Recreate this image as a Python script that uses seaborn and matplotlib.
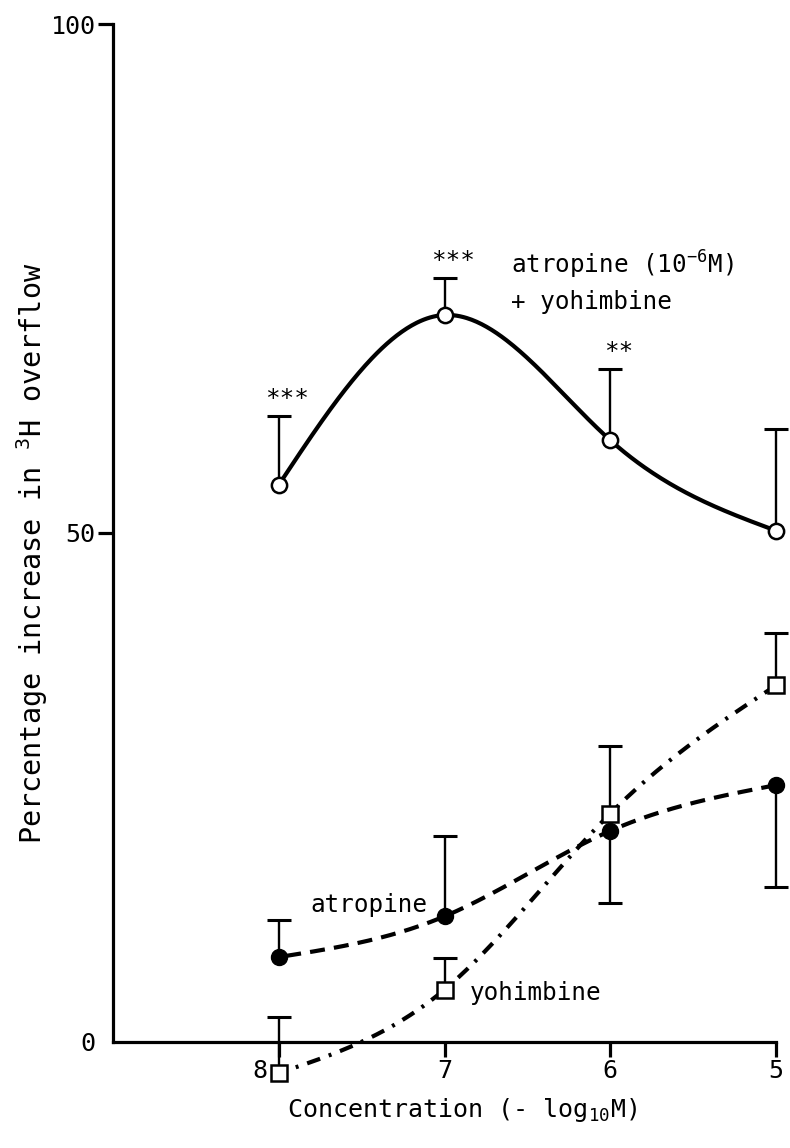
import numpy as np
import pandas as pd
import matplotlib
matplotlib.use("Agg")
import matplotlib.pyplot as plt
import matplotlib.transforms as mtransforms
import seaborn as sns

# ---- data ----
conc = [8, 7, 6, 5]                       # -log10 M
combo_mean = [54.7, 71.4, 59.1, 50.2]     # atropine (1e-6 M) + yohimbine
combo_up = [6.8, 3.6, 7.0, 10.0]
atro_mean = [8.3, 12.3, 20.7, 25.2]       # atropine
atro_up = [3.6, 7.9, 0.0, 0.0]
atro_down = [0.0, 0.0, 7.1, 10.0]
yoh_mean = [-3.1, 5.1, 22.4, 35.0]        # yohimbine
yoh_up = [5.5, 3.1, 6.6, 5.1]
signif = ["***", "***", "**", ""]
xticks = [8, 7, 6, 5]
yticks = [0, 50, 100]

sns.set_style("ticks")
plt.rcParams["font.family"] = ["DejaVu Sans Mono", "DejaVu Sans"]
plt.rcParams["mathtext.fontset"] = "custom"
plt.rcParams["mathtext.rm"] = "DejaVu Sans Mono"
plt.rcParams["mathtext.it"] = "DejaVu Sans Mono"
plt.rcParams["mathtext.default"] = "rm"
for key in ("text.color", "axes.labelcolor", "xtick.color", "ytick.color", "axes.edgecolor"):
    plt.rcParams[key] = "black"

FS = 17.5


def natural_spline(x, y, n=300):
    x = np.asarray(x, float)
    y = np.asarray(y, float)
    order = np.argsort(x)
    x, y = x[order], y[order]
    m = len(x)
    h = np.diff(x)
    A = np.zeros((m, m))
    b = np.zeros(m)
    A[0, 0] = 1
    A[-1, -1] = 1
    for i in range(1, m - 1):
        A[i, i - 1] = h[i - 1]
        A[i, i] = 2 * (h[i - 1] + h[i])
        A[i, i + 1] = h[i]
        b[i] = 6 * ((y[i + 1] - y[i]) / h[i] - (y[i] - y[i - 1]) / h[i - 1])
    M = np.linalg.solve(A, b)
    xs = np.linspace(x[0], x[-1], n)
    ys = np.empty_like(xs)
    for k, xv in enumerate(xs):
        i = min(np.searchsorted(x, xv, side="right") - 1, m - 2)
        t1 = x[i + 1] - xv
        t0 = xv - x[i]
        ys[k] = (M[i] * t1 ** 3 / (6 * h[i]) + M[i + 1] * t0 ** 3 / (6 * h[i])
                 + (y[i] / h[i] - M[i] * h[i] / 6) * t1
                 + (y[i + 1] / h[i] - M[i + 1] * h[i] / 6) * t0)
    return pd.DataFrame({"conc": xs, "value": ys})


fig = plt.figure(figsize=(7.9, 11.48), dpi=100)
ax = fig.add_axes([113 / 790, (1148 - 1041.5) / 1148, (776 - 113) / 790, (1041.5 - 24) / 1148])

# smooth curves
sns.lineplot(data=natural_spline(conc, combo_mean), x="conc", y="value", ax=ax,
             color="black", lw=3.0, estimator=None, sort=False)
ax.lines[-1].set_linestyle("-")
sns.lineplot(data=natural_spline(conc, atro_mean), x="conc", y="value", ax=ax,
             color="black", lw=3.0, estimator=None, sort=False)
ax.lines[-1].set_linestyle((0, (3.6, 2.2)))
sns.lineplot(data=natural_spline(conc, yoh_mean), x="conc", y="value", ax=ax,
             color="black", lw=3.0, estimator=None, sort=False)
ax.lines[-1].set_linestyle((0, (3.3, 2.2, 0.7, 2.2)))
for ln in ax.lines:
    ln.set_clip_on(False)
    ln.set_solid_capstyle("butt")
    ln.set_dash_capstyle("butt")

# error bars
CAP = 17  # points (full cap width)


def errbars(x, mean, up, down):
    x = np.asarray(x, float)
    mean = np.asarray(mean, float)
    up = np.asarray(up, float)
    down = np.asarray(down, float)
    lo = mean - down
    hi = mean + up
    ax.vlines(x, lo, hi, color="black", lw=1.7, zorder=3, clip_on=False)
    sel_hi = up > 0
    ax.plot(x[sel_hi], hi[sel_hi], ls="none", marker="_", ms=CAP, mew=2.2,
            color="black", zorder=3, clip_on=False)
    sel_lo = down > 0
    if sel_lo.any():
        ax.plot(x[sel_lo], lo[sel_lo], ls="none", marker="_", ms=CAP, mew=2.2,
                color="black", zorder=3, clip_on=False)


errbars(conc, combo_mean, combo_up, [0] * 4)
errbars(conc, atro_mean, atro_up, atro_down)
errbars(conc, yoh_mean, yoh_up, [0] * 4)

# markers
ax.plot(conc, combo_mean, ls="none", marker="o", ms=11, mfc="white", mec="black",
        mew=1.8, zorder=5, clip_on=False)
ax.plot(conc, atro_mean, ls="none", marker="o", ms=11.5, mfc="black", mec="black",
        mew=1.0, zorder=5, clip_on=False)
ax.plot(conc, yoh_mean, ls="none", marker="s", ms=11.3, mfc="white", mec="black",
        mew=1.8, zorder=6, clip_on=False)

# significance stars
for xv, m, u, s in zip(conc, combo_mean, combo_up, signif):
    if s:
        ax.text(xv - 0.05, m + u + 0.5, s, ha="center", va="bottom", fontsize=FS)

# labels on curves
ax.text(6.6, 76.3, "atropine (10$^{-6}$M)", ha="left", va="center", fontsize=FS)
ax.text(6.6, 72.7, "+ yohimbine", ha="left", va="center", fontsize=FS)
ax.text(7.81, 13.4, "atropine", ha="left", va="center", fontsize=FS)
ax.text(6.85, 4.8, "yohimbine", ha="left", va="center", fontsize=FS)

# axes styling
ax.set_xlim(9, 5)
ax.set_ylim(0, 100)
ax.set_xticks(xticks)
ax.set_xticklabels([str(t) for t in xticks])
ax.set_yticks(yticks)
ax.set_yticklabels([str(t) for t in yticks])
sns.despine(ax=ax)
for sp in ("left", "bottom"):
    ax.spines[sp].set_linewidth(2.3)
ax.tick_params(axis="both", direction="out", length=10.5, width=2.3, labelsize=18,
               pad=2, color="black", labelcolor="black")
ax.yaxis.get_major_ticks()[0].tick1line.set_visible(False)
# "8" sits just left of the square marker in the original
lab8 = ax.get_xticklabels()[0]
lab8.set_transform(lab8.get_transform() + mtransforms.ScaledTranslation(-0.19, 0, fig.dpi_scale_trans))

ax.set_xlabel("Concentration (- log$_{10}$M)", fontsize=18)
ax.xaxis.set_label_coords(0.527, -0.054)
ax.set_ylabel("Percentage increase in $^{3}$H overflow", fontsize=20.5)
ax.yaxis.set_label_coords(-0.095, 0.48)

fig.savefig("out.png", dpi=100, facecolor="white")
